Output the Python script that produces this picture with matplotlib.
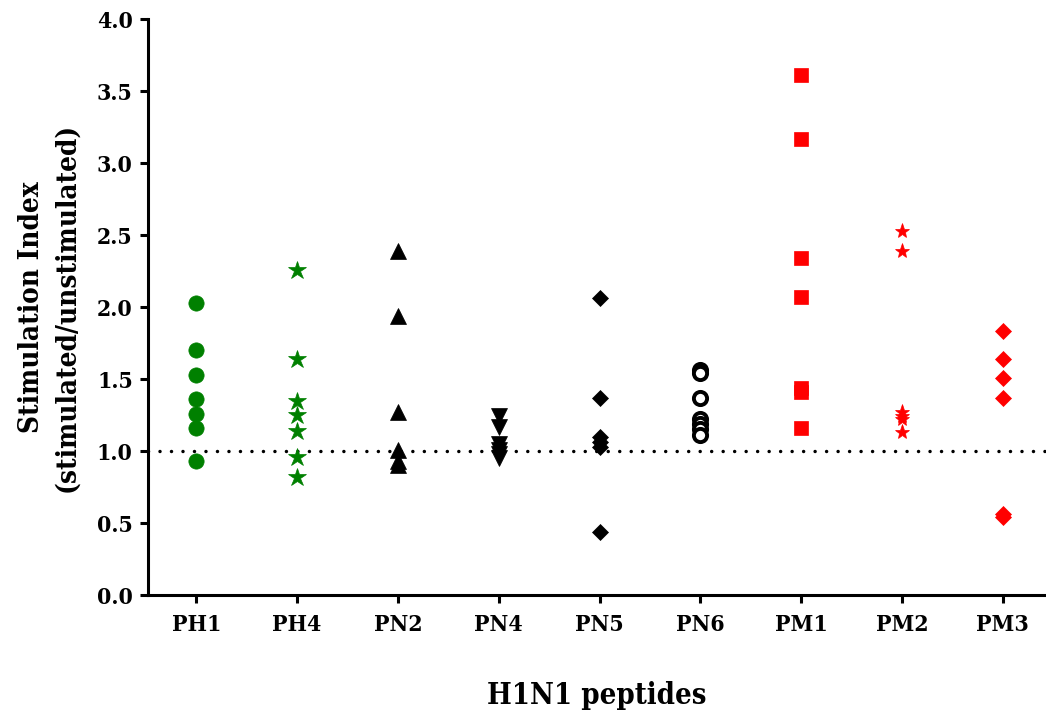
import matplotlib
matplotlib.use("Agg")
import matplotlib.pyplot as plt

categories = ["PH1", "PH4", "PN2", "PN4", "PN5", "PN6", "PM1", "PM2", "PM3"]

ph1 = [2.03, 1.70, 1.53, 1.36, 1.26, 1.16, 0.93]
ph4 = [2.26, 1.64, 1.35, 1.25, 1.14, 0.96, 0.82]
pn2 = [2.39, 1.94, 1.27, 1.01, 0.93, 0.90]
pn4 = [1.24, 1.17, 1.05, 1.01, 0.98, 0.95]
pn5 = [2.06, 1.37, 1.10, 1.06, 1.03, 0.44]
pn6 = [1.56, 1.54, 1.37, 1.22, 1.19, 1.15, 1.11]
pm1 = [3.61, 3.17, 2.34, 2.07, 1.44, 1.41, 1.16]
pm2 = [2.53, 2.39, 1.27, 1.24, 1.22, 1.13]
pm3 = [1.83, 1.64, 1.51, 1.37, 0.56, 0.54]

series = [ph1, ph4, pn2, pn4, pn5, pn6, pm1, pm2, pm3]
green = "#008000"
red = "#FF0000"
styles = [
    dict(marker="o", color=green, ms=11),
    dict(marker="*", color=green, ms=13.5),
    dict(marker="^", color="black", ms=11),
    dict(marker="v", color="black", ms=11),
    dict(marker="D", color="black", ms=8.5),
    dict(marker="o", color="black", ms=9.5, mfc="white", mew=2.8),
    dict(marker="s", color=red, ms=9.5),
    dict(marker="*", color=red, ms=11),
    dict(marker="D", color=red, ms=8.5),
]

fig = plt.figure(figsize=(10.46, 7.11), dpi=100)
ax = fig.add_axes([148/1046, 1 - 595/711, (1046-148)/1046, (595-19)/711])

for i, (vals, st) in enumerate(zip(series, styles)):
    kw = dict(linestyle="none", marker=st["marker"], markersize=st["ms"],
              color=st["color"], markeredgecolor=st["color"])
    if "mfc" in st:
        kw["markerfacecolor"] = st["mfc"]
        kw["markeredgewidth"] = st["mew"]
    else:
        kw["markeredgewidth"] = 0.5
    ax.plot([i] * len(vals), vals, **kw, zorder=3)

ax.axhline(1.0, color="black", linewidth=2.5, linestyle=(0, (0.01, 3.3)),
           dash_capstyle="round", zorder=2)

ax.set_xlim(-0.48, 8.43)
ax.set_ylim(0, 4.0)
ax.set_xticks(range(len(categories)))
ax.set_xticklabels(categories)
ax.set_yticks([0, 0.5, 1.0, 1.5, 2.0, 2.5, 3.0, 3.5, 4.0])
ax.set_yticklabels([f"{v:.1f}" for v in ax.get_yticks()])

for s in ["top", "right"]:
    ax.spines[s].set_visible(False)
for s in ["left", "bottom"]:
    ax.spines[s].set_linewidth(2.2)
ax.tick_params(axis="both", direction="out", length=6, width=2.2, colors="black", pad=5)
ax.tick_params(axis="x", pad=8)
for lab in ax.get_xticklabels() + ax.get_yticklabels():
    lab.set_fontfamily("DejaVu Serif")
    lab.set_fontweight("bold")
    lab.set_fontstretch("condensed")
    lab.set_fontsize(16.5)

ax.set_ylabel("Stimulation Index\n(stimulated/unstimulated)", fontfamily="DejaVu Serif",
              fontstretch="condensed", fontweight="bold", fontsize=20,
              linespacing=1.4)
ax.yaxis.set_label_coords(-68/898, 0.5)
ax.set_xlabel("H1N1 peptides", fontfamily="DejaVu Serif", fontstretch="condensed",
              fontweight="bold", fontsize=21)
ax.xaxis.set_label_coords(0.5, -(696 - 595) / 576)
ax.xaxis.label.set_va("center")

fig.savefig("out.png", dpi=100)
